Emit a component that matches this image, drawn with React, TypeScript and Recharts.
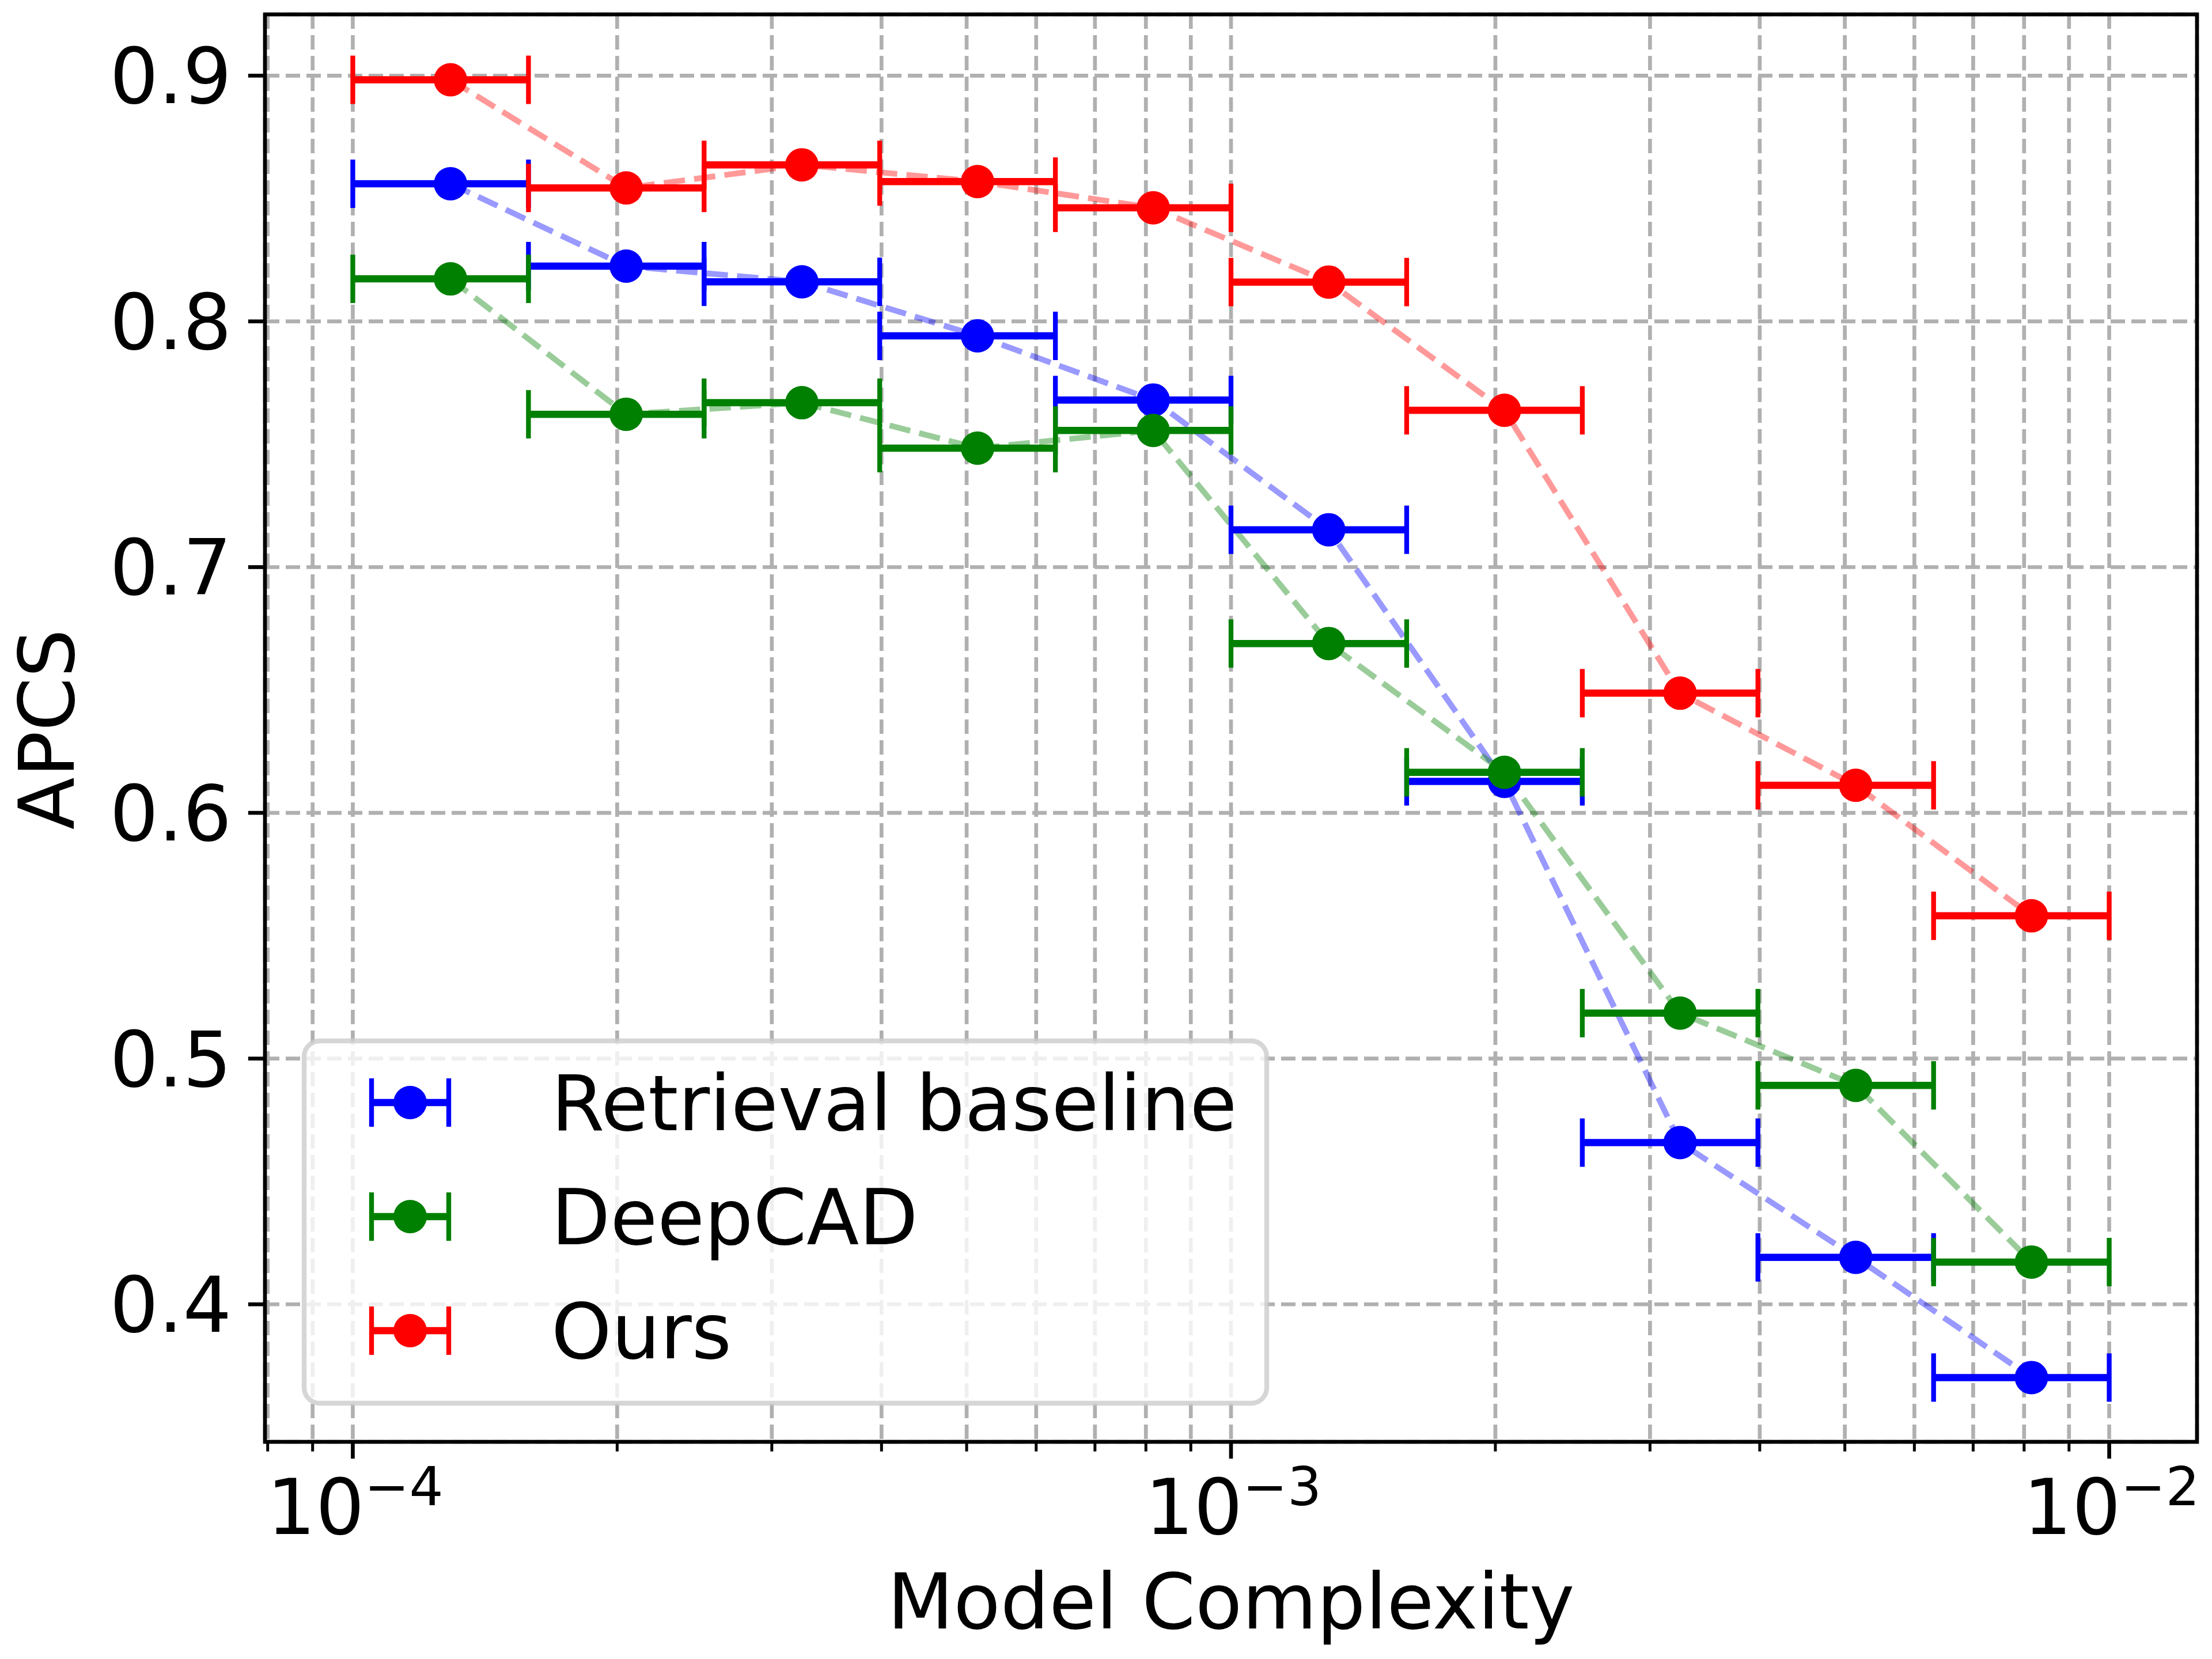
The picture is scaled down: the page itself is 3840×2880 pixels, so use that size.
import React from "react";
import {
  ComposedChart,
  Line,
  Scatter,
  ErrorBar,
  XAxis,
  YAxis,
  CartesianGrid,
} from "recharts";

// bin edges along model complexity (log spaced) and the point positions inside each bin
const binEdges = [
  1.0e-4, 1.585e-4, 2.512e-4, 3.981e-4, 6.31e-4, 1.0e-3, 1.585e-3, 2.512e-3,
  3.981e-3, 6.31e-3, 1.0e-2,
];
const binCenters = [
  1.292e-4, 2.048e-4, 3.246e-4, 5.145e-4, 8.155e-4, 1.292e-3, 2.048e-3,
  3.246e-3, 5.145e-3, 8.155e-3,
];

// APCS per bin
const retrieval = [
  0.856, 0.8225, 0.8161, 0.7941, 0.768, 0.7152, 0.6128, 0.4658, 0.4191, 0.3702,
];
const deepCad = [
  0.8173, 0.7622, 0.7669, 0.7484, 0.7556, 0.6689, 0.6165, 0.5185, 0.4891, 0.4172,
];
const ours = [
  0.8983, 0.8543, 0.8637, 0.8569, 0.8462, 0.816, 0.7638, 0.6487, 0.6112, 0.5581,
];

const seriesKeys = ["retrieval", "deepcad", "ours"];
const seriesNames = ["Retrieval baseline", "DeepCAD", "Ours"];
const seriesColors = ["#0000ff", "#008000", "#ff0000"];

const majorXTicks = [1e-4, 1e-3, 1e-2];
const minorXTicks = [
  8e-5, 9e-5, 2e-4, 3e-4, 4e-4, 5e-4, 6e-4, 7e-4, 8e-4, 9e-4, 2e-3, 3e-3, 4e-3,
  5e-3, 6e-3, 7e-3, 8e-3, 9e-3,
];
const yTicks = [0.4, 0.5, 0.6, 0.7, 0.8, 0.9];
const yTickLabels = ["0.4", "0.5", "0.6", "0.7", "0.8", "0.9"];

const data = binCenters.map((x, i) => ({
  x,
  err: [x - binEdges[i], binEdges[i + 1] - x],
  retrieval: retrieval[i],
  deepcad: deepCad[i],
  ours: ours[i],
}));

const xTicks = [...minorXTicks, ...majorXTicks].sort((a, b) => a - b);

const FONT = "DejaVu Sans";
const W = 3840;
const H = 2880;
const PLOT = { left: 460, top: 25, right: 3814, bottom: 2503 };
const DPT = 600 / 72; // px per point

function XTick(props: any) {
  const { x, y, payload } = props;
  const v = payload.value;
  const major = majorXTicks.includes(v);
  if (!major) {
    return (
      <line x1={x} y1={y} x2={x} y2={y + 2 * DPT} stroke="#000" strokeWidth={0.6 * DPT} />
    );
  }
  const exp = Math.round(Math.log10(v));
  return (
    <g>
      <line x1={x} y1={y} x2={x} y2={y + 3.5 * DPT} stroke="#000" strokeWidth={0.8 * DPT} />
      <text x={x + 4} y={y + 160} textAnchor="middle" fontFamily={FONT} fontSize={133} fill="#000">
        <tspan>10</tspan>
        <tspan dy={-50} fontSize={93}>
          {"\u2212" + Math.abs(exp)}
        </tspan>
      </text>
    </g>
  );
}

function YTick(props: any) {
  const { x, y, payload } = props;
  const idx = yTicks.indexOf(payload.value);
  return (
    <g>
      <line x1={x - 3.5 * DPT} y1={y} x2={x} y2={y} stroke="#000" strokeWidth={0.8 * DPT} />
      <text x={x - 58} y={y + 48} textAnchor="end" fontFamily={FONT} fontSize={133} fill="#000">
        {yTickLabels[idx]}
      </text>
    </g>
  );
}

function Dot(color: string) {
  return (p: any) => <circle cx={p.cx} cy={p.cy} r={29} fill={color} />;
}

function Overlay() {
  const lx = 528;
  const ly = 1807;
  const rowY = (i: number) => ly + 107 + i * 198;
  return (
    <svg
      width={W}
      height={H}
      style={{ position: "absolute", left: 0, top: 0, pointerEvents: "none" }}
    >
      {/* spines */}
      <rect
        x={PLOT.left}
        y={PLOT.top}
        width={PLOT.right - PLOT.left}
        height={PLOT.bottom - PLOT.top}
        fill="none"
        stroke="#000"
        strokeWidth={0.8 * DPT}
      />
      {/* axis labels */}
      <text
        x={PLOT.left + (PLOT.right - PLOT.left) / 2}
        y={2827}
        textAnchor="middle"
        fontFamily={FONT}
        fontSize={133}
        fill="#000"
      >
        Model Complexity
      </text>
      <text
        x={128}
        y={1266}
        transform="rotate(-90 128 1266)"
        textAnchor="middle"
        fontFamily={FONT}
        fontSize={133}
        fill="#000"
      >
        APCS
      </text>
      {/* legend */}
      <rect
        x={lx}
        y={ly}
        width={1671}
        height={629}
        rx={27}
        ry={27}
        fill="#ffffff"
        fillOpacity={0.8}
        stroke="#cccccc"
        strokeOpacity={0.8}
        strokeWidth={DPT}
      />
      {seriesNames.map((name, i) => {
        const cy = rowY(i);
        const c = seriesColors[i];
        return (
          <g key={name}>
            <line x1={645} y1={cy} x2={779} y2={cy} stroke={c} strokeWidth={1.5 * DPT} />
            <line x1={645} y1={cy - 42} x2={645} y2={cy + 42} stroke={c} strokeWidth={DPT} />
            <line x1={779} y1={cy - 42} x2={779} y2={cy + 42} stroke={c} strokeWidth={DPT} />
            <circle cx={712} cy={cy} r={29} fill={c} />
            <text x={957} y={cy + 48} fontFamily={FONT} fontSize={133} fill="#000">
              {name}
            </text>
          </g>
        );
      })}
    </svg>
  );
}

export default function App() {
  return (
    <div
      style={{
        position: "absolute",
        left: 0,
        top: 0,
        width: W,
        height: H,
        background: "#fff",
        fontFamily: FONT,
      }}
    >
      <ComposedChart
        width={W}
        height={H}
        data={data}
        margin={{ top: PLOT.top, right: W - PLOT.right, bottom: 0, left: 0 }}
      >
        <CartesianGrid
          stroke="#b0b0b0"
          strokeWidth={0.8 * DPT}
          strokeDasharray="25 11"
        />
        <XAxis
          type="number"
          dataKey="x"
          scale="log"
          domain={[Math.pow(10, -4.1), Math.pow(10, -1.9)]}
          allowDataOverflow
          ticks={xTicks}
          interval={0}
          tick={(p: any) => <XTick {...p} />}
          tickLine={false}
          axisLine={false}
          tickSize={0}
          tickMargin={0}
          height={H - PLOT.bottom}
        />
        <YAxis
          type="number"
          domain={[0.34404, 0.92492]}
          allowDataOverflow
          ticks={yTicks}
          interval={0}
          tick={(p: any) => <YTick {...p} />}
          tickLine={false}
          axisLine={false}
          tickSize={0}
          tickMargin={0}
          width={PLOT.left}
        />
        {seriesKeys.map((k, i) => (
          <Line
            key={"line-" + k}
            type="linear"
            dataKey={k}
            stroke={seriesColors[i]}
            strokeOpacity={0.4}
            strokeWidth={10}
            strokeDasharray="37 16"
            dot={false}
            activeDot={false}
            isAnimationActive={false}
          />
        ))}
        {seriesKeys.map((k, i) => (
          <Scatter
            key={"pts-" + k}
            dataKey={k}
            fill={seriesColors[i]}
            shape={Dot(seriesColors[i])}
            isAnimationActive={false}
          >
            <ErrorBar
              dataKey="err"
              direction="x"
              width={0}
              stroke={seriesColors[i]}
              strokeWidth={1.5 * DPT}
              isAnimationActive={false}
            />
            <ErrorBar
              dataKey="err"
              direction="x"
              width={42}
              stroke={seriesColors[i]}
              strokeWidth={DPT}
              isAnimationActive={false}
            />
          </Scatter>
        ))}
      </ComposedChart>
      <Overlay />
    </div>
  );
}
